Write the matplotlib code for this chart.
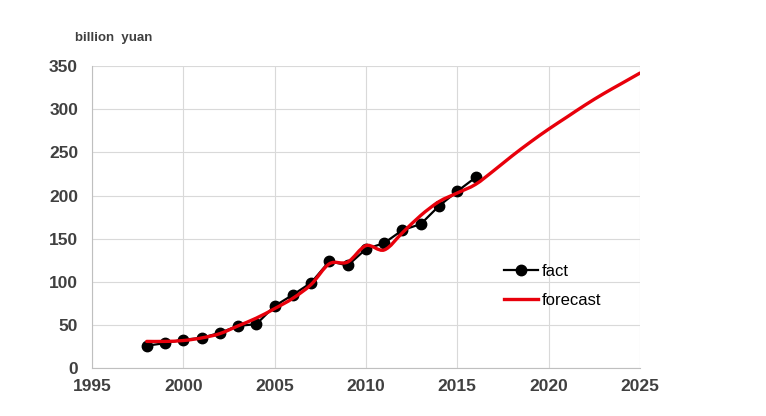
import matplotlib
matplotlib.use("Agg")
import matplotlib.pyplot as plt
from matplotlib.path import Path
from matplotlib.patches import PathPatch
from matplotlib.lines import Line2D
import numpy as np

plt.rcParams['font.family'] = ['Liberation Sans', 'DejaVu Sans']

# actual values, billion yuan
fact_years = [1998, 1999, 2000, 2001, 2002, 2003, 2004, 2005, 2006, 2007,
              2008, 2009, 2010, 2011, 2012, 2013, 2014, 2015, 2016]
fact_vals = [26, 29, 33, 35, 41, 49, 51, 72, 85, 99,
             124, 119, 138, 145, 160, 167, 188, 205, 221]

# forecast curve
fc_years = list(range(1998, 2026))
fc_vals = [31, 31, 32, 35, 40, 49, 58, 69, 81, 97,
           121, 123, 142, 137, 157, 177, 193, 203, 213, 229,
           246, 262, 277, 291, 305, 318, 330, 342]

xticks = [1995, 2000, 2005, 2010, 2015, 2020, 2025]
yticks = [0, 50, 100, 150, 200, 250, 300, 350]

txt_col = '#404040'
grid_col = '#d9d9d9'


def smooth_path(x, y, t=1/6):
    # excel-like smoothed line: bezier segments through the points
    x = np.asarray(x, float)
    y = np.asarray(y, float)
    n = len(x)
    verts = [(x[0], y[0])]
    codes = [Path.MOVETO]
    for i in range(n - 1):
        x0, y0 = (x[i - 1], y[i - 1]) if i > 0 else (x[i], y[i])
        x3, y3 = (x[i + 2], y[i + 2]) if i + 2 < n else (x[i + 1], y[i + 1])
        c1 = (x[i] + (x[i + 1] - x0) * t, y[i] + (y[i + 1] - y0) * t)
        c2 = (x[i + 1] - (x3 - x[i]) * t, y[i + 1] - (y3 - y[i]) * t)
        verts += [c1, c2, (x[i + 1], y[i + 1])]
        codes += [Path.CURVE4] * 3
    return Path(verts, codes)


fig = plt.figure(figsize=(7.66, 4.16), dpi=100)
ax = fig.add_axes([0.120, 0.115, 0.7155, 0.726])

ax.plot(fact_years, fact_vals, color='black', lw=1.6, marker='o', ms=7.5,
        zorder=3)
ax.add_patch(PathPatch(smooth_path(fc_years, fc_vals), facecolor='none',
                       edgecolor='#e8000b', lw=2.4, zorder=4,
                       capstyle='round'))

ax.set_xlim(1995, 2025)
ax.set_ylim(0, 350)
ax.set_xticks(xticks)
ax.set_yticks(yticks)
ax.grid(True, color=grid_col, lw=0.8)
ax.set_axisbelow(True)
for s in ax.spines.values():
    s.set_visible(False)
ax.spines['left'].set_visible(True)
ax.spines['bottom'].set_visible(True)
ax.spines['left'].set_color('#bfbfbf')
ax.spines['bottom'].set_color('#bfbfbf')
ax.tick_params(length=0, labelsize=12.5, labelcolor=txt_col)
ax.tick_params(axis='y', pad=10)
ax.tick_params(axis='x', pad=8)
for lab in ax.get_xticklabels() + ax.get_yticklabels():
    lab.set_fontweight('bold')

fig.text(75 / 766, 1 - 38 / 416, 'billion  yuan', fontsize=9.5,
         fontweight='bold', color=txt_col, va='center')

handles = [Line2D([], [], color='black', lw=1.6, marker='o', ms=7.5),
           Line2D([], [], color='#e8000b', lw=2.4)]
ax.legend(handles, ['fact', 'forecast'], loc='upper left',
          bbox_to_anchor=(0.725, 0.395), frameon=False, fontsize=12,
          handlelength=2.0, handletextpad=0.25, labelspacing=0.85,
          markerscale=1.0)

fig.savefig('out.png', dpi=100)
